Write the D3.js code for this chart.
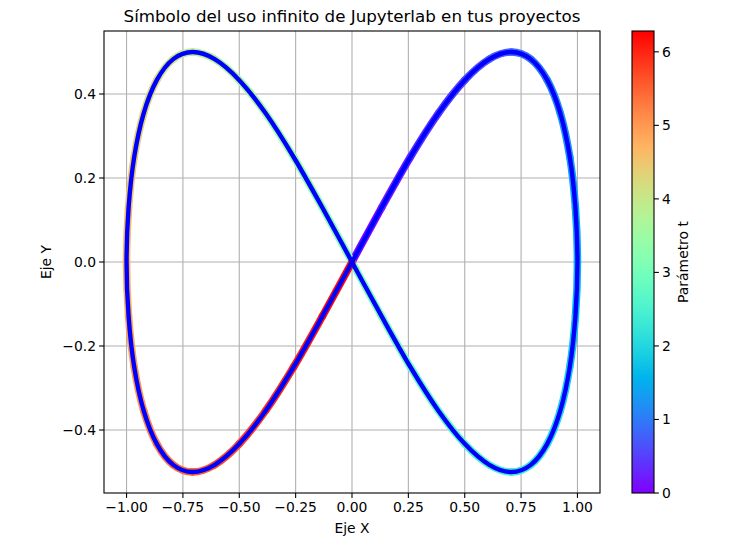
<!DOCTYPE html>
<html><head><meta charset="utf-8">
<script src="https://cdn.jsdelivr.net/npm/d3@7"></script>
<style>body{margin:0;background:#fff}svg text{font-family:"DejaVu Sans",sans-serif;fill:#000}</style>
</head><body><svg id="c" width="749" height="546"></svg>
<script>
// Parameter t (0..2π, step π/24)
const tVals = [0,0.131,0.262,0.393,0.524,0.654,0.785,0.916,1.047,1.178,1.309,1.440,1.571,1.702,1.833,1.963,2.094,2.225,2.356,2.487,2.618,2.749,2.880,3.011,3.142,3.272,3.403,3.534,3.665,3.796,3.927,4.058,4.189,4.320,4.451,4.581,4.712,4.843,4.974,5.105,5.236,5.367,5.498,5.629,5.760,5.890,6.021,6.152,6.283];
const xVals = [0,0.131,0.259,0.383,0.5,0.609,0.707,0.793,0.866,0.924,0.966,0.991,1,0.991,0.966,0.924,0.866,0.793,0.707,0.609,0.5,0.383,0.259,0.131,0,-0.131,-0.259,-0.383,-0.5,-0.609,-0.707,-0.793,-0.866,-0.924,-0.966,-0.991,-1,-0.991,-0.966,-0.924,-0.866,-0.793,-0.707,-0.609,-0.5,-0.383,-0.259,-0.131,0];
const yVals = [0,0.129,0.25,0.354,0.433,0.483,0.5,0.483,0.433,0.354,0.25,0.129,0,-0.129,-0.25,-0.354,-0.433,-0.483,-0.5,-0.483,-0.433,-0.354,-0.25,-0.129,0,0.129,0.25,0.354,0.433,0.483,0.5,0.483,0.433,0.354,0.25,0.129,0,-0.129,-0.25,-0.354,-0.433,-0.483,-0.5,-0.483,-0.433,-0.354,-0.25,-0.129,0];
const xTicks = [-1.0,-0.75,-0.5,-0.25,0,0.25,0.5,0.75,1.0];
const yTicks = [-0.4,-0.2,0,0.2,0.4];
const cbTicks = [0,1,2,3,4,5,6];
const title = "Símbolo del uso infinito de Jupyterlab en tus proyectos";

const svg = d3.select("#c");
const L=104,R=600,T=31,B=493;
const x = d3.scaleLinear().domain([-1.1,1.1]).range([L,R]);
const y = d3.scaleLinear().domain([-0.55,0.55]).range([B,T]);
const tMax = 2*Math.PI;

function rainbow(v){ // matplotlib 'rainbow'
  const c=u=>Math.max(0,Math.min(1,u));
  const r=c(Math.abs(2*v-0.5)), g=c(Math.sin(Math.PI*v)), b=c(Math.cos(Math.PI*v/2));
  return d3.rgb(r*255,g*255,b*255).toString();
}
const fs = "13.9px";
// grid
const g = svg.append("g");
xTicks.forEach(v=>g.append("line").attr("x1",x(v)).attr("x2",x(v)).attr("y1",T).attr("y2",B).attr("stroke","#b0b0b0").attr("stroke-width",1.1));
yTicks.forEach(v=>g.append("line").attr("y1",y(v)).attr("y2",y(v)).attr("x1",L).attr("x2",R).attr("stroke","#b0b0b0").attr("stroke-width",1.1));

// data points
const pts = tVals.map((t,i)=>({t, px:x(xVals[i]), py:y(yVals[i])}));
const n = pts.length;
function seg(i){
  const p0=pts[Math.max(0,i-1)], p1=pts[i], p2=pts[i+1], p3=pts[Math.min(n-1,i+2)];
  // closed curve: wrap ends
  const a = i===0 ? pts[n-2] : p0;
  const d = i+2>n-1 ? pts[1] : p3;
  const c1x=p1.px+(p2.px-a.px)/6, c1y=p1.py+(p2.py-a.py)/6;
  const c2x=p2.px-(d.px-p1.px)/6, c2y=p2.py-(d.py-p1.py)/6;
  return {p1,p2,c:`C${c1x},${c1y} ${c2x},${c2y} ${p2.px},${p2.py}`};
}
const clip = svg.append("clipPath").attr("id","ax").append("rect").attr("x",L).attr("y",T).attr("width",R-L).attr("height",B-T);
const plot = svg.append("g").attr("clip-path","url(#ax)");
let full = `M${pts[0].px},${pts[0].py}`;
for(let i=0;i<n-1;i++){
  const s=seg(i);
  plot.append("path").attr("d",`M${s.p1.px},${s.p1.py}${s.c}`).attr("fill","none")
    .attr("stroke",rainbow(((s.p1.t+s.p2.t)/2)/tMax)).attr("stroke-width",7.5).attr("stroke-linecap","round");
  full += s.c;
}
plot.append("path").attr("d",full).attr("fill","none").attr("stroke","#0000ff").attr("stroke-width",4.4).attr("stroke-linejoin","round");

// axes frame
svg.append("rect").attr("x",L).attr("y",T).attr("width",R-L).attr("height",B-T).attr("fill","none").attr("stroke","#000").attr("stroke-width",1.1);
const fmtX = v=>d3.format(".2f")(v).replace("-","−");
const fmtY = v=>d3.format(".1f")(v).replace("-","−");
xTicks.forEach(v=>{
  svg.append("line").attr("x1",x(v)).attr("x2",x(v)).attr("y1",B).attr("y2",B+4.9).attr("stroke","#000").attr("stroke-width",1.1);
  svg.append("text").attr("x",x(v)).attr("y",B+19).attr("text-anchor","middle").style("font-size",fs).text(fmtX(v));
});
yTicks.forEach(v=>{
  svg.append("line").attr("x1",L-4.9).attr("x2",L).attr("y1",y(v)).attr("y2",y(v)).attr("stroke","#000").attr("stroke-width",1.1);
  svg.append("text").attr("x",L-8).attr("y",y(v)+5).attr("text-anchor","end").style("font-size",fs).text(fmtY(v));
});
svg.append("text").attr("x",(L+R)/2).attr("y",533).attr("text-anchor","middle").style("font-size",fs).text("Eje X");
svg.append("text").attr("transform",`translate(51,${(T+B)/2}) rotate(-90)`).attr("text-anchor","middle").style("font-size",fs).text("Eje Y");
svg.append("text").attr("x",(L+R)/2).attr("y",22).attr("text-anchor","middle").style("font-size","16.7px").text(title);

// colorbar
const CL=632,CR=654;
const cy = d3.scaleLinear().domain([0,tMax]).range([B,T]);
const grad = svg.append("defs").append("linearGradient").attr("id","gr").attr("x1",0).attr("y1",1).attr("x2",0).attr("y2",0);
d3.range(0,1.0001,0.05).forEach(v=>grad.append("stop").attr("offset",v).attr("stop-color",rainbow(v)));
svg.append("rect").attr("x",CL).attr("y",T).attr("width",CR-CL).attr("height",B-T).attr("fill","url(#gr)").attr("stroke","#000").attr("stroke-width",1.1);
cbTicks.forEach(v=>{
  svg.append("line").attr("x1",CR).attr("x2",CR+4.9).attr("y1",cy(v)).attr("y2",cy(v)).attr("stroke","#000").attr("stroke-width",1.1);
  svg.append("text").attr("x",CR+8).attr("y",cy(v)+5).style("font-size",fs).text(v);
});
svg.append("text").attr("transform",`translate(688,${(T+B)/2}) rotate(-90)`).attr("text-anchor","middle").style("font-size",fs).text("Parámetro t");
</script></body></html>
